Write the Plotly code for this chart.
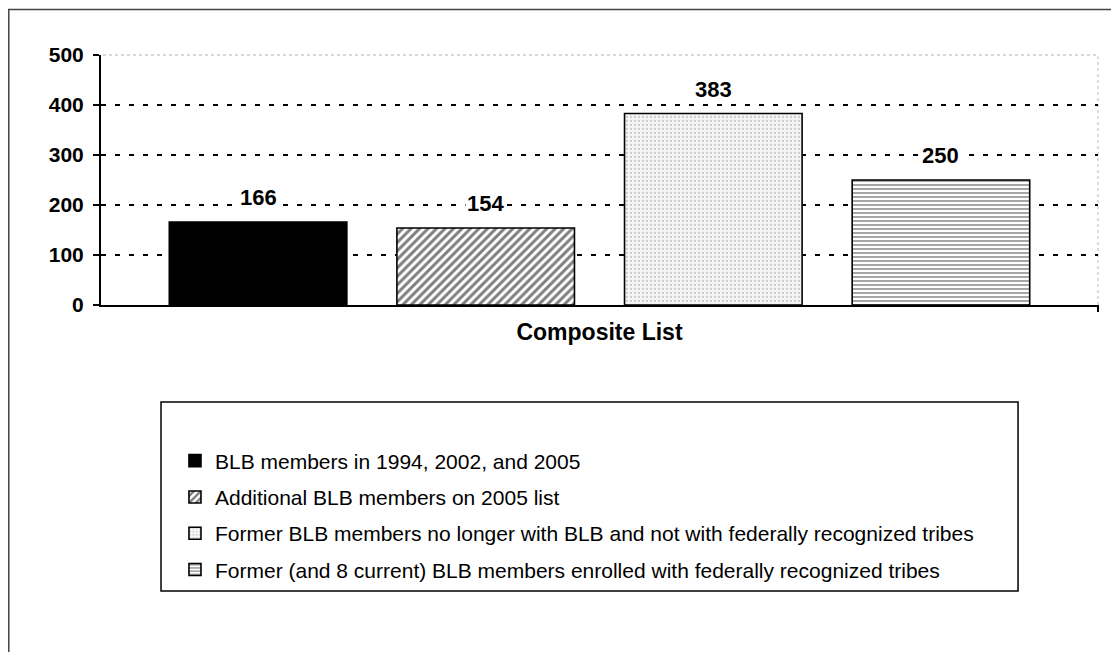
import plotly.graph_objects as go

series_names = [
    "BLB members in 1994, 2002, and 2005",
    "Additional BLB members on 2005 list",
    "Former BLB members no longer with BLB and not with federally recognized tribes",
    "Former (and 8 current) BLB members enrolled with federally recognized tribes",
]
values = [166, 154, 383, 250]
y_ticks = [0, 100, 200, 300, 400, 500]
axis_title = "Composite List"

patterns = [
    dict(shape="", fgcolor="black", bgcolor="black"),
    dict(shape="/", fgcolor="black", bgcolor="white", size=6, solidity=0.5),
    dict(shape=".", fgcolor="#a0a0a0", bgcolor="#f6f6f6", size=4, solidity=0.25),
    dict(shape="-", fgcolor="black", bgcolor="white", size=4, solidity=0.35),
]
fills = ["black", "white", "#f6f6f6", "white"]

FONT = "Liberation Sans, Arial, sans-serif"

fig = go.Figure()
for i, (name, v) in enumerate(zip(series_names, values)):
    fig.add_trace(go.Bar(
        x=[name], y=[v], name=name, legendgroup=f"g{i}",
        marker=dict(color=fills[i], pattern=patterns[i],
                    line=dict(color="black", width=1.6)),
        hoverinfo="skip",
    ))
    fig.add_annotation(
        x=name, y=v, text=f"<b>{v}</b>", showarrow=False,
        yanchor="bottom", yshift=10, bgcolor="white", borderpad=1,
        font=dict(family=FONT, size=22, color="black"),
    )

fig.update_layout(
    width=1111, height=644,
    margin=dict(l=93, r=21, t=47, b=347),
    paper_bgcolor="white", plot_bgcolor="white",
    barmode="overlay", bargap=0.22,
    showlegend=True,
    legend=dict(
        x=0.0742, xanchor="left", y=-0.542, yanchor="top",
        bgcolor="rgba(0,0,0,0)", borderwidth=0,
        tracegroupgap=6,
        font=dict(family=FONT, size=21, color="black"),
    ),
    xaxis=dict(
        range=[-0.69, 3.69], showticklabels=False, ticks="",
        showline=True, linecolor="black", linewidth=2, showgrid=False,
        title=dict(text=f"<b>{axis_title}</b>", standoff=18,
                   font=dict(family=FONT, size=23, color="black")),
        fixedrange=True,
    ),
    yaxis=dict(
        range=[0, 500], tickvals=y_ticks, ticktext=[f"<b>{t}</b>" for t in y_ticks],
        tickfont=dict(family=FONT, size=21, color="black"),
        ticks="outside", ticklen=6, tickwidth=2, tickcolor="black",
        ticklabelstandoff=5,
        showline=True, linecolor="black", linewidth=2,
        showgrid=True, gridcolor="black", gridwidth=2, griddash="5px,9px",
        zeroline=False, fixedrange=True,
    ),
)

# plot area top/right faint border
fig.add_shape(type="line", xref="paper", yref="paper", x0=0.002, x1=1, y0=1, y1=1,
              line=dict(color="white", width=4), layer="above")
fig.add_shape(type="line", xref="paper", yref="paper", x0=0.002, x1=1, y0=1, y1=1,
              line=dict(color="#b0b0b0", width=1, dash="dot"), layer="above")
fig.add_shape(type="line", xref="paper", yref="paper", x0=1, x1=1, y0=0, y1=1,
              line=dict(color="#b8b8b8", width=1, dash="dot"), layer="below")
# right end tick on x axis
fig.add_shape(type="line", xref="paper", yref="paper", x0=1, x1=1, y0=0, y1=-0.028,
              line=dict(color="black", width=2))
# legend box
fig.add_shape(type="rect", xref="paper", yref="paper",
              x0=0.0602, x1=0.9198, y0=-1.144, y1=-0.388,
              line=dict(color="black", width=1.5), fillcolor="rgba(0,0,0,0)")
# outer chart border
fig.add_shape(type="rect", xref="paper", yref="paper",
              x0=-0.0925, x1=1.03, y0=-1.45, y1=1.182,
              line=dict(color="#444444", width=1.5), fillcolor="rgba(0,0,0,0)")

fig.write_html("out.html")
